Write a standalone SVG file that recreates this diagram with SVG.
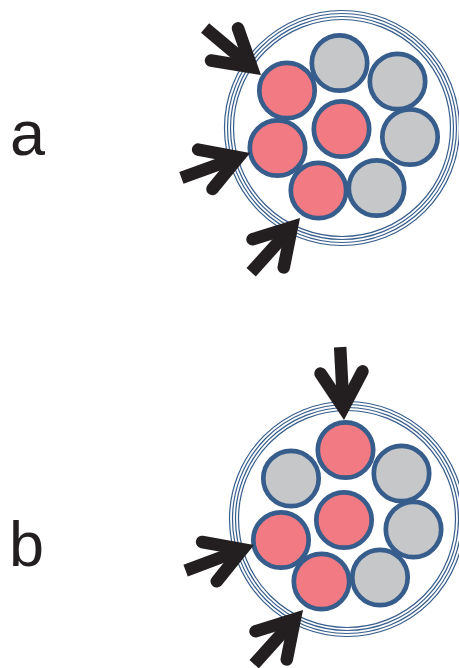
<svg xmlns="http://www.w3.org/2000/svg" xmlns:xlink="http://www.w3.org/1999/xlink" width="459" height="668" viewBox="0 0 459 668">
<style>
.ring{fill:none;stroke:#375d8c;stroke-width:1.2}
.pink{fill:#f27a82;stroke:#375d8c;stroke-width:4.7}
.gray{fill:#c6c7c9;stroke:#375d8c;stroke-width:4.7}
.lbl{font-family:"Liberation Sans",Arial,sans-serif;font-size:63px;fill:#231f20}
.shaft{stroke:#231f20;stroke-width:12.5;fill:none;stroke-linecap:butt}
.head{stroke:#231f20;stroke-width:12.5;fill:none;stroke-linecap:round;stroke-linejoin:miter;stroke-miterlimit:10}
</style>
<defs>
<g id="arrow">
<line class="shaft" x1="-73" y1="0" x2="-15" y2="0"/>
<path class="head" d="M-47.6,-21 L-12.2,0 L-47.6,21"/>
</g>
<g id="rings">
<circle class="ring" r="117.5"/>
<circle class="ring" r="114.5"/>
<circle class="ring" r="111.5"/>
<circle class="ring" r="108.5"/>
</g>
</defs>
<g id="label-a"><text class="lbl" x="10" y="155">a</text></g>
<g id="label-b"><text class="lbl" x="9" y="566">b</text></g>
<g id="bundle-a">
<use xlink:href="#rings" href="#rings" x="342" y="128"/>
<circle class="pink" cx="287" cy="90.5" r="27.7"/>
<circle class="gray" cx="339.5" cy="63" r="27.7"/>
<circle class="gray" cx="397.5" cy="81.5" r="27.7"/>
<circle class="pink" cx="341.5" cy="129" r="27.7"/>
<circle class="gray" cx="410" cy="137" r="27.7"/>
<circle class="pink" cx="277.5" cy="148" r="27.7"/>
<circle class="pink" cx="318.5" cy="190.5" r="27.7"/>
<circle class="gray" cx="376.5" cy="188" r="27.7"/>
</g>
<g id="bundle-b">
<use xlink:href="#rings" href="#rings" x="347" y="519"/>
<circle class="pink" cx="345.5" cy="450" r="27.7"/>
<circle class="gray" cx="291" cy="478.5" r="27.7"/>
<circle class="gray" cx="401.5" cy="473.5" r="27.7"/>
<circle class="pink" cx="344" cy="520" r="27.7"/>
<circle class="gray" cx="413.5" cy="529.5" r="27.7"/>
<circle class="pink" cx="281" cy="540" r="27.7"/>
<circle class="pink" cx="321.5" cy="581.5" r="27.7"/>
<circle class="gray" cx="380" cy="577.5" r="27.7"/>
</g>
<g id="connectors">
<use xlink:href="#arrow" href="#arrow" transform="translate(261,75) rotate(40)"/>
<use xlink:href="#arrow" href="#arrow" transform="translate(250,153) rotate(-20)"/>
<use xlink:href="#arrow" href="#arrow" transform="translate(300,218) rotate(-48)"/>
<use xlink:href="#arrow" href="#arrow" transform="translate(344,420) rotate(87)"/>
<use xlink:href="#arrow" href="#arrow" transform="translate(254,545) rotate(-20.5)"/>
<use xlink:href="#arrow" href="#arrow" transform="translate(303,610) rotate(-48)"/>
</g>
</svg>
